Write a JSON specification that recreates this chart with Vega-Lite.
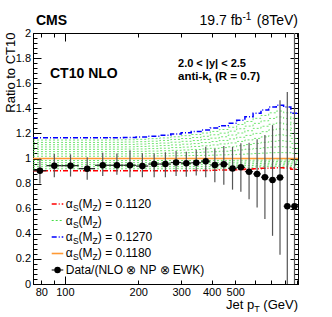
{
  "$schema": "https://vega.github.io/schema/vega-lite/v6.json",
  "width": 265,
  "height": 251,
  "autosize": {"type": "none"},
  "padding": {"left": 33, "top": 33, "right": 34, "bottom": 33},
  "background": "white",
  "config": {
    "font": "Liberation Sans",
    "view": {"stroke": "black", "strokeWidth": 1},
    "axis": {"domainColor": "black", "tickColor": "black", "labelColor": "black", "grid": false, "labelFontSize": 11, "labelFlush": false, "labelOverlap": false, "domainWidth": 1, "tickWidth": 1}
  },
  "data": {"values": [{}]},
  "datasets": {
    "meas": [
      {"lo": 74, "hi": 84, "pt": 79, "r": 0.903, "el": 0.80, "eh": 1.00},
      {"lo": 84, "hi": 97, "pt": 90.5, "r": 0.943, "el": 0.85, "eh": 1.036},
      {"lo": 97, "hi": 114, "pt": 105.5, "r": 0.943, "el": 0.856, "eh": 1.033},
      {"lo": 114, "hi": 133, "pt": 123.5, "r": 0.919, "el": 0.83, "eh": 1.01},
      {"lo": 133, "hi": 153, "pt": 143, "r": 0.946, "el": 0.86, "eh": 1.046},
      {"lo": 153, "hi": 174, "pt": 163.5, "r": 0.946, "el": 0.87, "eh": 1.04},
      {"lo": 174, "hi": 196, "pt": 185, "r": 0.946, "el": 0.85, "eh": 1.065},
      {"lo": 196, "hi": 220, "pt": 208, "r": 0.940, "el": 0.85, "eh": 1.042},
      {"lo": 220, "hi": 245, "pt": 232.5, "r": 0.956, "el": 0.85, "eh": 1.04},
      {"lo": 245, "hi": 272, "pt": 258.5, "r": 0.956, "el": 0.85, "eh": 1.049},
      {"lo": 272, "hi": 300, "pt": 286, "r": 0.968, "el": 0.86, "eh": 1.06},
      {"lo": 300, "hi": 330, "pt": 315, "r": 0.962, "el": 0.855, "eh": 1.054},
      {"lo": 330, "hi": 362, "pt": 346, "r": 0.966, "el": 0.865, "eh": 1.068},
      {"lo": 362, "hi": 395, "pt": 378.5, "r": 0.978, "el": 0.85, "eh": 1.094},
      {"lo": 395, "hi": 430, "pt": 412.5, "r": 0.948, "el": 0.81, "eh": 1.077},
      {"lo": 430, "hi": 468, "pt": 449, "r": 0.955, "el": 0.79, "eh": 1.10},
      {"lo": 468, "hi": 507, "pt": 487.5, "r": 0.921, "el": 0.752, "eh": 1.092},
      {"lo": 507, "hi": 548, "pt": 527.5, "r": 0.93, "el": 0.736, "eh": 1.121},
      {"lo": 548, "hi": 592, "pt": 570, "r": 0.895, "el": 0.676, "eh": 1.126},
      {"lo": 592, "hi": 638, "pt": 615, "r": 0.877, "el": 0.609, "eh": 1.153},
      {"lo": 638, "hi": 686, "pt": 662, "r": 0.851, "el": 0.517, "eh": 1.187},
      {"lo": 686, "hi": 737, "pt": 711.5, "r": 0.829, "el": 0.384, "eh": 1.266},
      {"lo": 737, "hi": 790, "pt": 763.5, "r": 0.848, "el": 0.233, "eh": 1.465},
      {"lo": 790, "hi": 846, "pt": 818, "r": 0.62, "el": 0, "eh": 1.53},
      {"lo": 846, "hi": 905, "pt": 875.5, "r": 0.62, "el": 0, "eh": 2.0}
    ],
    "theory": [
      {"x": 74, "a112": 0.902, "a113": 0.918, "a114": 0.935, "a115": 0.951, "a116": 0.967, "a117": 0.984, "a118": 1, "a119": 1.018, "a120": 1.037, "a121": 1.055, "a122": 1.073, "a123": 1.092, "a124": 1.110, "a125": 1.128, "a126": 1.147, "a127": 1.165},
      {"x": 84, "a112": 0.902, "a113": 0.918, "a114": 0.935, "a115": 0.951, "a116": 0.967, "a117": 0.984, "a118": 1, "a119": 1.018, "a120": 1.037, "a121": 1.055, "a122": 1.073, "a123": 1.092, "a124": 1.110, "a125": 1.128, "a126": 1.147, "a127": 1.165},
      {"x": 97, "a112": 0.902, "a113": 0.918, "a114": 0.935, "a115": 0.951, "a116": 0.967, "a117": 0.984, "a118": 1, "a119": 1.018, "a120": 1.037, "a121": 1.055, "a122": 1.073, "a123": 1.092, "a124": 1.110, "a125": 1.128, "a126": 1.147, "a127": 1.165},
      {"x": 114, "a112": 0.902, "a113": 0.918, "a114": 0.935, "a115": 0.951, "a116": 0.967, "a117": 0.984, "a118": 1, "a119": 1.018, "a120": 1.037, "a121": 1.055, "a122": 1.073, "a123": 1.092, "a124": 1.110, "a125": 1.128, "a126": 1.147, "a127": 1.165},
      {"x": 133, "a112": 0.902, "a113": 0.918, "a114": 0.935, "a115": 0.951, "a116": 0.967, "a117": 0.984, "a118": 1, "a119": 1.018, "a120": 1.037, "a121": 1.055, "a122": 1.073, "a123": 1.092, "a124": 1.110, "a125": 1.128, "a126": 1.147, "a127": 1.165},
      {"x": 153, "a112": 0.902, "a113": 0.918, "a114": 0.935, "a115": 0.951, "a116": 0.967, "a117": 0.984, "a118": 1, "a119": 1.018, "a120": 1.037, "a121": 1.055, "a122": 1.074, "a123": 1.092, "a124": 1.111, "a125": 1.129, "a126": 1.148, "a127": 1.166},
      {"x": 174, "a112": 0.902, "a113": 0.918, "a114": 0.935, "a115": 0.951, "a116": 0.967, "a117": 0.984, "a118": 1, "a119": 1.019, "a120": 1.037, "a121": 1.056, "a122": 1.075, "a123": 1.093, "a124": 1.112, "a125": 1.131, "a126": 1.149, "a127": 1.168},
      {"x": 196, "a112": 0.902, "a113": 0.918, "a114": 0.935, "a115": 0.951, "a116": 0.967, "a117": 0.984, "a118": 1, "a119": 1.019, "a120": 1.038, "a121": 1.057, "a122": 1.076, "a123": 1.096, "a124": 1.115, "a125": 1.134, "a126": 1.153, "a127": 1.172},
      {"x": 220, "a112": 0.902, "a113": 0.918, "a114": 0.935, "a115": 0.951, "a116": 0.967, "a117": 0.984, "a118": 1, "a119": 1.020, "a120": 1.040, "a121": 1.059, "a122": 1.079, "a123": 1.099, "a124": 1.119, "a125": 1.138, "a126": 1.158, "a127": 1.178},
      {"x": 245, "a112": 0.902, "a113": 0.918, "a114": 0.935, "a115": 0.951, "a116": 0.967, "a117": 0.984, "a118": 1, "a119": 1.021, "a120": 1.041, "a121": 1.062, "a122": 1.082, "a123": 1.103, "a124": 1.123, "a125": 1.144, "a126": 1.164, "a127": 1.185},
      {"x": 272, "a112": 0.903, "a113": 0.919, "a114": 0.935, "a115": 0.952, "a116": 0.968, "a117": 0.984, "a118": 1, "a119": 1.022, "a120": 1.043, "a121": 1.065, "a122": 1.087, "a123": 1.108, "a124": 1.130, "a125": 1.152, "a126": 1.173, "a127": 1.195},
      {"x": 300, "a112": 0.903, "a113": 0.919, "a114": 0.935, "a115": 0.952, "a116": 0.968, "a117": 0.984, "a118": 1, "a119": 1.023, "a120": 1.046, "a121": 1.068, "a122": 1.091, "a123": 1.114, "a124": 1.137, "a125": 1.159, "a126": 1.182, "a127": 1.205},
      {"x": 330, "a112": 0.904, "a113": 0.920, "a114": 0.936, "a115": 0.952, "a116": 0.968, "a117": 0.984, "a118": 1, "a119": 1.024, "a120": 1.048, "a121": 1.072, "a122": 1.096, "a123": 1.119, "a124": 1.143, "a125": 1.167, "a126": 1.191, "a127": 1.215},
      {"x": 362, "a112": 0.905, "a113": 0.921, "a114": 0.937, "a115": 0.953, "a116": 0.968, "a117": 0.984, "a118": 1, "a119": 1.025, "a120": 1.051, "a121": 1.076, "a122": 1.101, "a123": 1.127, "a124": 1.152, "a125": 1.177, "a126": 1.203, "a127": 1.228},
      {"x": 395, "a112": 0.907, "a113": 0.923, "a114": 0.938, "a115": 0.954, "a116": 0.969, "a117": 0.985, "a118": 1, "a119": 1.027, "a120": 1.054, "a121": 1.081, "a122": 1.108, "a123": 1.135, "a124": 1.162, "a125": 1.189, "a126": 1.216, "a127": 1.243},
      {"x": 430, "a112": 0.909, "a113": 0.924, "a114": 0.939, "a115": 0.955, "a116": 0.970, "a117": 0.985, "a118": 1, "a119": 1.029, "a120": 1.058, "a121": 1.087, "a122": 1.116, "a123": 1.144, "a124": 1.173, "a125": 1.202, "a126": 1.231, "a127": 1.26},
      {"x": 468, "a112": 0.911, "a113": 0.926, "a114": 0.941, "a115": 0.956, "a116": 0.970, "a117": 0.985, "a118": 1, "a119": 1.031, "a120": 1.062, "a121": 1.093, "a122": 1.124, "a123": 1.156, "a124": 1.187, "a125": 1.218, "a126": 1.249, "a127": 1.28},
      {"x": 507, "a112": 0.913, "a113": 0.928, "a114": 0.942, "a115": 0.957, "a116": 0.971, "a117": 0.986, "a118": 1, "a119": 1.034, "a120": 1.068, "a121": 1.102, "a122": 1.136, "a123": 1.169, "a124": 1.203, "a125": 1.237, "a126": 1.271, "a127": 1.305},
      {"x": 548, "a112": 0.916, "a113": 0.930, "a114": 0.944, "a115": 0.958, "a116": 0.972, "a117": 0.986, "a118": 1, "a119": 1.037, "a120": 1.074, "a121": 1.111, "a122": 1.148, "a123": 1.184, "a124": 1.221, "a125": 1.258, "a126": 1.295, "a127": 1.332},
      {"x": 592, "a112": 0.919, "a113": 0.933, "a114": 0.946, "a115": 0.960, "a116": 0.973, "a117": 0.987, "a118": 1, "a119": 1.040, "a120": 1.080, "a121": 1.120, "a122": 1.160, "a123": 1.200, "a124": 1.240, "a125": 1.280, "a126": 1.320, "a127": 1.36},
      {"x": 638, "a112": 0.922, "a113": 0.935, "a114": 0.948, "a115": 0.961, "a116": 0.974, "a117": 0.987, "a118": 1, "a119": 1.043, "a120": 1.086, "a121": 1.129, "a122": 1.172, "a123": 1.214, "a124": 1.257, "a125": 1.300, "a126": 1.343, "a127": 1.386},
      {"x": 686, "a112": 0.925, "a113": 0.938, "a114": 0.950, "a115": 0.963, "a116": 0.975, "a117": 0.988, "a118": 1, "a119": 1.046, "a120": 1.091, "a121": 1.137, "a122": 1.182, "a123": 1.228, "a124": 1.273, "a125": 1.319, "a126": 1.364, "a127": 1.41},
      {"x": 737, "a112": 0.927, "a113": 0.939, "a114": 0.951, "a115": 0.964, "a116": 0.976, "a117": 0.988, "a118": 1, "a119": 1.047, "a120": 1.094, "a121": 1.142, "a122": 1.189, "a123": 1.236, "a124": 1.283, "a125": 1.331, "a126": 1.378, "a127": 1.425},
      {"x": 790, "a112": 0.925, "a113": 0.938, "a114": 0.950, "a115": 0.963, "a116": 0.975, "a117": 0.988, "a118": 1, "a119": 1.046, "a120": 1.091, "a121": 1.137, "a122": 1.182, "a123": 1.228, "a124": 1.273, "a125": 1.319, "a126": 1.364, "a127": 1.41},
      {"x": 846, "a112": 0.915, "a113": 0.929, "a114": 0.943, "a115": 0.958, "a116": 0.972, "a117": 0.986, "a118": 1, "a119": 1.040, "a120": 1.080, "a121": 1.120, "a122": 1.160, "a123": 1.200, "a124": 1.240, "a125": 1.280, "a126": 1.320, "a127": 1.36},
      {"x": 905, "a112": 0.915, "a113": 0.929, "a114": 0.943, "a115": 0.958, "a116": 0.972, "a117": 0.986, "a118": 1, "a119": 1.040, "a120": 1.080, "a121": 1.120, "a122": 1.160, "a123": 1.200, "a124": 1.240, "a125": 1.280, "a126": 1.320, "a127": 1.36}
    ]
  },
  "resolve": {"axis": {"x": "independent", "y": "independent"}},
  "layer": [
    {
      "data": {"name": "theory"},
      "transform": [{"fold": ["a113", "a114", "a115", "a116", "a117", "a119", "a120", "a121", "a122", "a123", "a124", "a125", "a126"], "as": ["k", "v"]}],
      "mark": {"type": "line", "interpolate": "step-after", "color": "#44dd44", "strokeWidth": 0.9, "strokeDash": [2, 2], "opacity": 0.85, "clip": true},
      "encoding": {
        "x": {"field": "x", "type": "quantitative", "scale": {"type": "log", "domain": [74, 905], "nice": false}, "axis": null},
        "y": {"field": "v", "type": "quantitative", "scale": {"domain": [0, 2], "nice": false, "zero": false}, "axis": null},
        "detail": {"field": "k"}
      }
    },
    {
      "data": {"name": "theory"},
      "mark": {"type": "line", "interpolate": "step-after", "color": "#ff9933", "strokeWidth": 1.6, "clip": true},
      "encoding": {
        "x": {"field": "x", "type": "quantitative", "axis": null},
        "y": {"field": "a118", "type": "quantitative", "axis": null}
      }
    },
    {
      "data": {"name": "theory"},
      "mark": {"type": "line", "interpolate": "step-after", "color": "#ff0000", "strokeWidth": 1.5, "strokeDash": [5, 2, 1, 2], "clip": true},
      "encoding": {
        "x": {"field": "x", "type": "quantitative", "axis": null},
        "y": {"field": "a112", "type": "quantitative", "axis": null}
      }
    },
    {
      "data": {"name": "theory"},
      "mark": {"type": "line", "interpolate": "step-after", "color": "#0000ff", "strokeWidth": 1.5, "strokeDash": [5, 2, 1, 2], "clip": true},
      "encoding": {
        "x": {"field": "x", "type": "quantitative", "axis": null},
        "y": {"field": "a127", "type": "quantitative", "axis": null}
      }
    },
    {
      "data": {"name": "meas"},
      "mark": {"type": "rule", "color": "#555555", "strokeWidth": 1.2, "clip": true},
      "encoding": {
        "x": {"field": "pt", "type": "quantitative", "axis": {"orient": "top", "values": [80, 90, 100, 200, 300, 400, 500, 600, 700, 800, 900], "labels": false, "title": null, "tickSize": {"condition": {"test": "datum.value == 100", "value": -8}, "value": -4}}},
        "y": {"field": "el", "type": "quantitative", "axis": {"orient": "right", "values": [0, 0.04, 0.08, 0.12, 0.16, 0.2, 0.24, 0.28, 0.32, 0.36, 0.4, 0.44, 0.48, 0.52, 0.56, 0.6, 0.64, 0.68, 0.72, 0.76, 0.8, 0.84, 0.88, 0.92, 0.96, 1, 1.04, 1.08, 1.12, 1.16, 1.2, 1.24, 1.28, 1.32, 1.36, 1.4, 1.44, 1.48, 1.52, 1.56, 1.6, 1.64, 1.68, 1.72, 1.76, 1.8, 1.84, 1.88, 1.92, 1.96, 2], "labels": false, "title": null, "tickSize": {"condition": {"test": "round(datum.value*25) % 5 == 0", "value": -8}, "value": -4}}},
        "y2": {"field": "eh"}
      }
    },
    {
      "data": {"name": "meas"},
      "mark": {"type": "rule", "color": "#222222", "strokeWidth": 1.2, "clip": true},
      "encoding": {
        "x": {"field": "lo", "type": "quantitative", "axis": null},
        "x2": {"field": "hi"},
        "y": {"field": "r", "type": "quantitative", "axis": null}
      }
    },
    {
      "data": {"name": "meas"},
      "mark": {"type": "point", "filled": true, "color": "black", "size": 42, "opacity": 1, "clip": true},
      "encoding": {
        "x": {"field": "pt", "type": "quantitative", "axis": {"orient": "bottom", "values": [80, 90, 100, 200, 300, 400, 500, 600, 700, 800, 900], "labelExpr": "indexof([80,100,200,300,400,500], datum.value) >= 0 ? format(datum.value, 'd') : ''", "title": null, "tickSize": {"condition": {"test": "datum.value == 100", "value": -8}, "value": -4}, "labelPadding": {"condition": {"test": "datum.value == 100", "value": 10}, "value": 6}}},
        "y": {"field": "r", "type": "quantitative", "axis": {"orient": "left", "values": [0, 0.04, 0.08, 0.12, 0.16, 0.2, 0.24, 0.28, 0.32, 0.36, 0.4, 0.44, 0.48, 0.52, 0.56, 0.6, 0.64, 0.68, 0.72, 0.76, 0.8, 0.84, 0.88, 0.92, 0.96, 1, 1.04, 1.08, 1.12, 1.16, 1.2, 1.24, 1.28, 1.32, 1.36, 1.4, 1.44, 1.48, 1.52, 1.56, 1.6, 1.64, 1.68, 1.72, 1.76, 1.8, 1.84, 1.88, 1.92, 1.96, 2], "labelExpr": "round(datum.value*25) % 5 == 0 ? format(datum.value, '~g') : ''", "tickSize": {"condition": {"test": "round(datum.value*25) % 5 == 0", "value": -8}, "value": -4}, "labelPadding": 10.5, "title": "Ratio to CT10", "titleFontSize": 13, "titleFontWeight": "normal", "titleColor": "black", "titleAngle": 270, "titleAlign": "right", "titleBaseline": "alphabetic", "titleX": -18.5, "titleY": -1}}
      }
    },
    {"mark": {"type": "text", "text": "CMS", "align": "left", "baseline": "alphabetic", "fontSize": 14, "fontWeight": "bold"}, "encoding": {"x": {"datum": 76.1, "axis": null}, "y": {"datum": 2.064, "axis": null}}},
    {"mark": {"type": "text", "text": "(8TeV)", "align": "right", "baseline": "alphabetic", "fontSize": 14}, "encoding": {"x": {"datum": 905, "axis": null}, "y": {"datum": 2.064, "axis": null}}},
    {"mark": {"type": "text", "text": "-1", "align": "right", "baseline": "alphabetic", "fontSize": 10, "dx": -46.7, "dy": -5}, "encoding": {"x": {"datum": 905, "axis": null}, "y": {"datum": 2.064, "axis": null}}},
    {"mark": {"type": "text", "text": "19.7 fb", "align": "right", "baseline": "alphabetic", "fontSize": 14, "dx": -55.6}, "encoding": {"x": {"datum": 905, "axis": null}, "y": {"datum": 2.064, "axis": null}}},
    {"mark": {"type": "text", "text": "(GeV)", "align": "right", "baseline": "alphabetic", "fontSize": 13}, "encoding": {"x": {"datum": 905, "axis": null}, "y": {"datum": -0.2, "axis": null}}},
    {"mark": {"type": "text", "text": "T", "align": "right", "baseline": "alphabetic", "fontSize": 9, "dx": -38.3, "dy": 3}, "encoding": {"x": {"datum": 905, "axis": null}, "y": {"datum": -0.2, "axis": null}}},
    {"mark": {"type": "text", "text": "Jet p", "align": "right", "baseline": "alphabetic", "fontSize": 13, "dx": -43.8}, "encoding": {"x": {"datum": 905, "axis": null}, "y": {"datum": -0.2, "axis": null}}},
    {"mark": {"type": "text", "text": "CT10 NLO", "align": "left", "baseline": "alphabetic", "fontSize": 14, "fontWeight": "bold"}, "encoding": {"x": {"datum": 86.9, "axis": null}, "y": {"datum": 1.641, "axis": null}}},
    {"mark": {"type": "text", "text": "2.0 < |y| < 2.5", "align": "left", "baseline": "alphabetic", "fontSize": 11, "fontWeight": "bold"}, "encoding": {"x": {"datum": 291.3, "axis": null}, "y": {"datum": 1.727, "axis": null}}},
    {"mark": {"type": "text", "text": "anti-k", "align": "left", "baseline": "alphabetic", "fontSize": 11.5, "fontWeight": "bold"}, "encoding": {"x": {"datum": 291.3, "axis": null}, "y": {"datum": 1.625, "axis": null}}},
    {"mark": {"type": "text", "text": "t", "align": "left", "baseline": "alphabetic", "fontSize": 8, "fontWeight": "bold", "dx": 30.7, "dy": 3}, "encoding": {"x": {"datum": 291.3, "axis": null}, "y": {"datum": 1.625, "axis": null}}},
    {"mark": {"type": "text", "text": "(R = 0.7)", "align": "left", "baseline": "alphabetic", "fontSize": 11.5, "fontWeight": "bold", "dx": 37}, "encoding": {"x": {"datum": 291.3, "axis": null}, "y": {"datum": 1.625, "axis": null}}},

    {"mark": {"type": "rule", "color": "#ff0000", "strokeWidth": 1.5, "strokeDash": [5, 2, 1, 2]}, "encoding": {"x": {"datum": 88.3, "axis": null}, "x2": {"datum": 98.5}, "y": {"datum": 0.6375, "axis": null}}},
    {"mark": {"type": "rule", "color": "#44dd44", "strokeWidth": 1, "strokeDash": [2, 2]}, "encoding": {"x": {"datum": 88.3, "axis": null}, "x2": {"datum": 98.5}, "y": {"datum": 0.506, "axis": null}}},
    {"mark": {"type": "rule", "color": "#0000ff", "strokeWidth": 1.5, "strokeDash": [5, 2, 1, 2]}, "encoding": {"x": {"datum": 88.3, "axis": null}, "x2": {"datum": 98.5}, "y": {"datum": 0.3745, "axis": null}}},
    {"mark": {"type": "rule", "color": "#ff9933", "strokeWidth": 1.6}, "encoding": {"x": {"datum": 88.3, "axis": null}, "x2": {"datum": 98.5}, "y": {"datum": 0.243, "axis": null}}},
    {"mark": {"type": "rule", "color": "#222222", "strokeWidth": 1.2}, "encoding": {"x": {"datum": 88.3, "axis": null}, "x2": {"datum": 98.5}, "y": {"datum": 0.1116, "axis": null}}},
    {"mark": {"type": "point", "filled": true, "color": "black", "size": 42, "opacity": 1}, "encoding": {"x": {"datum": 93.3, "axis": null}, "y": {"datum": 0.1116, "axis": null}}},

    {"mark": {"type": "text", "text": "α", "align": "left", "baseline": "alphabetic", "fontSize": 12}, "encoding": {"x": {"datum": 100.8, "axis": null}, "y": {"datum": 0.6056, "axis": null}}},
    {"mark": {"type": "text", "text": "S", "align": "left", "baseline": "alphabetic", "fontSize": 8.5, "dx": 7.2, "dy": 3}, "encoding": {"x": {"datum": 100.8, "axis": null}, "y": {"datum": 0.6056, "axis": null}}},
    {"mark": {"type": "text", "text": "(M", "align": "left", "baseline": "alphabetic", "fontSize": 12, "dx": 12.9}, "encoding": {"x": {"datum": 100.8, "axis": null}, "y": {"datum": 0.6056, "axis": null}}},
    {"mark": {"type": "text", "text": "Z", "align": "left", "baseline": "alphabetic", "fontSize": 8.5, "dx": 26.9, "dy": 3}, "encoding": {"x": {"datum": 100.8, "axis": null}, "y": {"datum": 0.6056, "axis": null}}},
    {"mark": {"type": "text", "text": ") = 0.1120", "align": "left", "baseline": "alphabetic", "fontSize": 12, "dx": 32.1}, "encoding": {"x": {"datum": 100.8, "axis": null}, "y": {"datum": 0.6056, "axis": null}}},

    {"mark": {"type": "text", "text": "α", "align": "left", "baseline": "alphabetic", "fontSize": 12}, "encoding": {"x": {"datum": 100.8, "axis": null}, "y": {"datum": 0.4741, "axis": null}}},
    {"mark": {"type": "text", "text": "S", "align": "left", "baseline": "alphabetic", "fontSize": 8.5, "dx": 7.2, "dy": 3}, "encoding": {"x": {"datum": 100.8, "axis": null}, "y": {"datum": 0.4741, "axis": null}}},
    {"mark": {"type": "text", "text": "(M", "align": "left", "baseline": "alphabetic", "fontSize": 12, "dx": 12.9}, "encoding": {"x": {"datum": 100.8, "axis": null}, "y": {"datum": 0.4741, "axis": null}}},
    {"mark": {"type": "text", "text": "Z", "align": "left", "baseline": "alphabetic", "fontSize": 8.5, "dx": 26.9, "dy": 3}, "encoding": {"x": {"datum": 100.8, "axis": null}, "y": {"datum": 0.4741, "axis": null}}},
    {"mark": {"type": "text", "text": ")", "align": "left", "baseline": "alphabetic", "fontSize": 12, "dx": 32.1}, "encoding": {"x": {"datum": 100.8, "axis": null}, "y": {"datum": 0.4741, "axis": null}}},

    {"mark": {"type": "text", "text": "α", "align": "left", "baseline": "alphabetic", "fontSize": 12}, "encoding": {"x": {"datum": 100.8, "axis": null}, "y": {"datum": 0.3426, "axis": null}}},
    {"mark": {"type": "text", "text": "S", "align": "left", "baseline": "alphabetic", "fontSize": 8.5, "dx": 7.2, "dy": 3}, "encoding": {"x": {"datum": 100.8, "axis": null}, "y": {"datum": 0.3426, "axis": null}}},
    {"mark": {"type": "text", "text": "(M", "align": "left", "baseline": "alphabetic", "fontSize": 12, "dx": 12.9}, "encoding": {"x": {"datum": 100.8, "axis": null}, "y": {"datum": 0.3426, "axis": null}}},
    {"mark": {"type": "text", "text": "Z", "align": "left", "baseline": "alphabetic", "fontSize": 8.5, "dx": 26.9, "dy": 3}, "encoding": {"x": {"datum": 100.8, "axis": null}, "y": {"datum": 0.3426, "axis": null}}},
    {"mark": {"type": "text", "text": ") = 0.1270", "align": "left", "baseline": "alphabetic", "fontSize": 12, "dx": 32.1}, "encoding": {"x": {"datum": 100.8, "axis": null}, "y": {"datum": 0.3426, "axis": null}}},

    {"mark": {"type": "text", "text": "α", "align": "left", "baseline": "alphabetic", "fontSize": 12}, "encoding": {"x": {"datum": 100.8, "axis": null}, "y": {"datum": 0.2112, "axis": null}}},
    {"mark": {"type": "text", "text": "S", "align": "left", "baseline": "alphabetic", "fontSize": 8.5, "dx": 7.2, "dy": 3}, "encoding": {"x": {"datum": 100.8, "axis": null}, "y": {"datum": 0.2112, "axis": null}}},
    {"mark": {"type": "text", "text": "(M", "align": "left", "baseline": "alphabetic", "fontSize": 12, "dx": 12.9}, "encoding": {"x": {"datum": 100.8, "axis": null}, "y": {"datum": 0.2112, "axis": null}}},
    {"mark": {"type": "text", "text": "Z", "align": "left", "baseline": "alphabetic", "fontSize": 8.5, "dx": 26.9, "dy": 3}, "encoding": {"x": {"datum": 100.8, "axis": null}, "y": {"datum": 0.2112, "axis": null}}},
    {"mark": {"type": "text", "text": ") = 0.1180", "align": "left", "baseline": "alphabetic", "fontSize": 12, "dx": 32.1}, "encoding": {"x": {"datum": 100.8, "axis": null}, "y": {"datum": 0.2112, "axis": null}}},

    {"mark": {"type": "text", "text": "Data/(NLO ⊗ NP ⊗ EWK)", "align": "left", "baseline": "alphabetic", "fontSize": 12}, "encoding": {"x": {"datum": 100.8, "axis": null}, "y": {"datum": 0.0797, "axis": null}}}
  ]
}
